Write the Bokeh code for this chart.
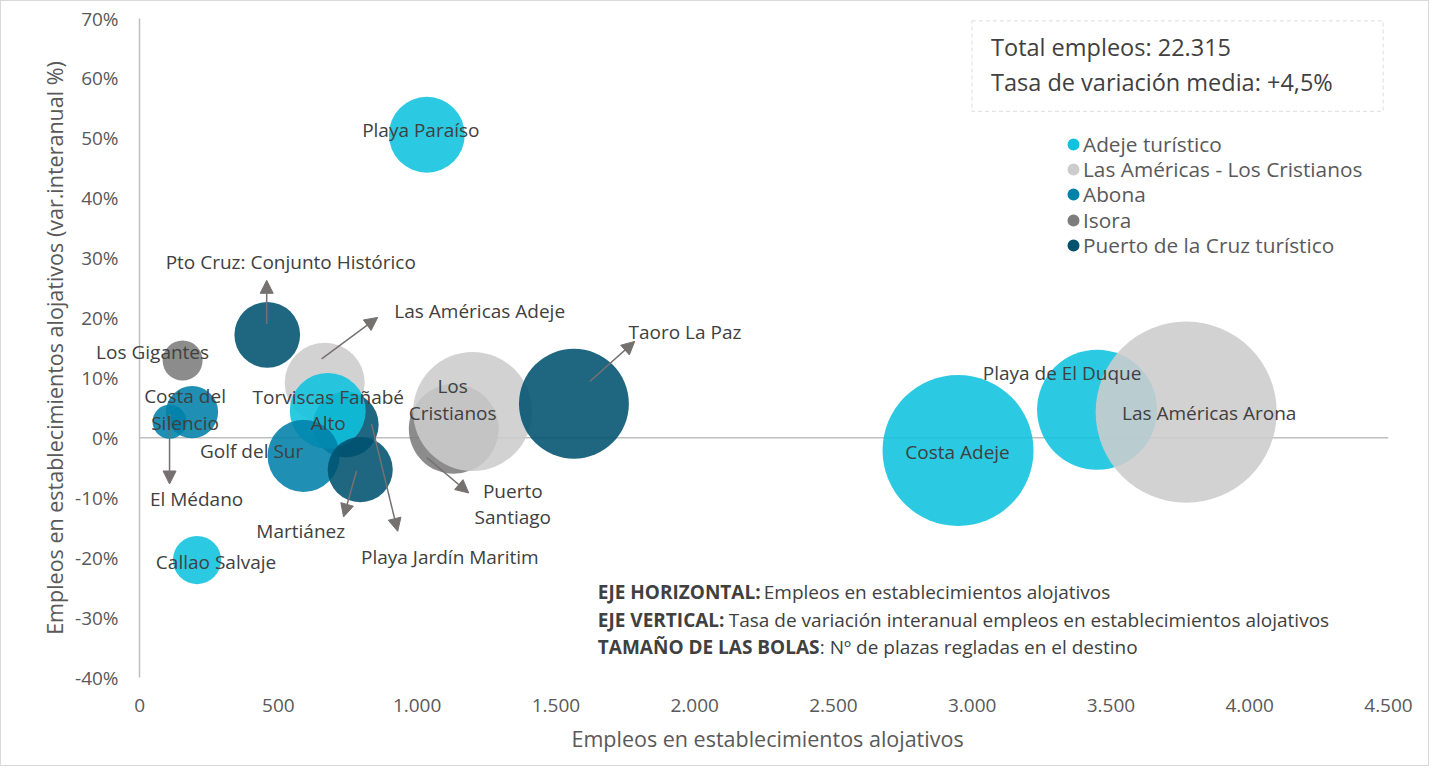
import math
from bokeh.plotting import figure
from bokeh.models import (ColumnDataSource, FixedTicker, NumeralTickFormatter, Arrow, Title,
                          NormalHead, Legend, LegendItem, BoxAnnotation, Label, Range1d)
from bokeh.embed import file_html
from bokeh.resources import INLINE

# ---------------- data ----------------
destinos = ["Playa Paraíso", "Costa Adeje", "Playa de El Duque", "Callao Salvaje",
            "Las Américas Arona", "Las Américas Adeje", "Playa Jardín Maritim",
            "Torviscas Fañabé Alto", "Golf del Sur", "Costa del Silencio", "El Médano",
            "Los Gigantes", "Puerto Santiago", "Los Cristianos",
            "Pto Cruz: Conjunto Histórico", "Martiánez", "Taoro La Paz"]
zonas = ["Adeje turístico", "Adeje turístico", "Adeje turístico", "Adeje turístico",
         "Las Américas - Los Cristianos", "Las Américas - Los Cristianos",
         "Puerto de la Cruz turístico", "Adeje turístico", "Abona", "Abona", "Abona",
         "Isora", "Isora", "Las Américas - Los Cristianos",
         "Puerto de la Cruz turístico", "Puerto de la Cruz turístico",
         "Puerto de la Cruz turístico"]
empleos = [1035, 2949, 3450, 207, 3771, 667, 743, 678, 591, 189, 108,
           155, 1132, 1200, 460, 795, 1565]
variacion = [0.506, -0.021, 0.047, -0.204, 0.043, 0.092, 0.022, 0.045, -0.030, 0.043, 0.027,
             0.129, 0.015, 0.044, 0.172, -0.053, 0.057]
plazas = [7200, 28500, 18000, 2900, 41000, 8000, 5400, 7200, 6500, 3400, 1450,
          2000, 10100, 17700, 5400, 5300, 15100]

zonas_leyenda = ["Adeje turístico", "Las Américas - Los Cristianos", "Abona", "Isora",
                 "Puerto de la Cruz turístico"]

x_ticks = [0, 500, 1000, 1500, 2000, 2500, 3000, 3500, 4000, 4500]
x_tick_labels = ["0", "500", "1.000", "1.500", "2.000", "2.500", "3.000", "3.500", "4.000", "4.500"]
y_ticks = [-0.4, -0.3, -0.2, -0.1, 0.0, 0.1, 0.2, 0.3, 0.4, 0.5, 0.6, 0.7]

x_title = "Empleos en establecimientos alojativos"
y_title = "Empleos en establecimientos alojativos (var.interanual %)"
total_txt = "Total empleos: 22.315"
media_txt = "Tasa de variación media: +4,5%"
nota_bold = ["EJE HORIZONTAL:", "EJE VERTICAL:", "TAMAÑO DE LAS BOLAS"]
nota_text = ["Empleos en establecimientos alojativos",
             "Tasa de variación interanual empleos en establecimientos alojativos",
             ": Nº de plazas regladas en el destino"]

# ---------------- styles / layout ----------------
FONT = "Open Sans"
zone_color = {"Adeje turístico": "#0FC3DE",
              "Las Américas - Los Cristianos": "#CDCCCD",
              "Abona": "#0081AA",
              "Isora": "#7C7C7C",
              "Puerto de la Cruz turístico": "#00526F"}
SIZE_K = 2 / math.sqrt(5)  # px diameter per sqrt(plaza)
LINE_H = 26.7               # px between label lines

# The frame is a bit larger than the axes (x=0..4500, y=-40%..70%) so that labels
# crossing the axes are not clipped; the y axis is pinned at x=0 like in the reference.
W, H = 1429, 766
FRAME_LEFT = 30
X_MAX, AXIS_PX = 4500, 1248          # px between x=0 and x=4500
Y_MIN, Y_MAX, AXIS_PY = -0.4, 0.7, 659
PAD_TOP, PAD_BOT = 13, 15            # px of frame beyond the y axis ends
x_start = -(139 - 1 - FRAME_LEFT) * X_MAX / AXIS_PX
py = AXIS_PY / (Y_MAX - Y_MIN)
y_start, y_end = Y_MIN - PAD_BOT / py, Y_MAX + PAD_TOP / py
border_top = 17 - PAD_TOP
border_bottom = H - border_top - (AXIS_PY + PAD_TOP + PAD_BOT)

label_text = {"Costa del Silencio": "Costa del\nSilencio",
              "Torviscas Fañabé Alto": "Torviscas Fañabé\nAlto",
              "Los Cristianos": "Los\nCristianos",
              "Puerto Santiago": "Puerto\nSantiago"}
label_off = {"Playa Paraíso": (-6, -4.5), "Costa Adeje": (-0.5, 2), "Playa de El Duque": (-35, -37),
             "Callao Salvaje": (19, 1.5), "Las Américas Arona": (23, 1), "Las Américas Adeje": (155, -72),
             "Playa Jardín Maritim": (104, 132), "Torviscas Fañabé Alto": (0.5, -1),
             "Golf del Sur": (-52, -5), "Costa del Silencio": (-7, -2.5), "El Médano": (27, 77),
             "Los Gigantes": (-30, -9), "Puerto Santiago": (59, 75), "Los Cristianos": (-20, -12),
             "Pto Cruz: Conjunto Histórico": (23.5, -72.5), "Martiánez": (-59.5, 61.5),
             "Taoro La Paz": (111, -72)}
arrows = [(458, 0.190, 458, 0.263), (656, 0.132, 858, 0.201), (1622, 0.094, 1784, 0.161),
          (108, 0.040, 108, -0.077), (782, -0.055, 735, -0.132), (836, 0.023, 930, -0.156),
          (1035, -0.033, 1186, -0.092)]

src = ColumnDataSource(dict(
    x=empleos, y=variacion,
    size=[SIZE_K * math.sqrt(v) for v in plazas],
    color=[zone_color[z] for z in zonas],
))

p = figure(width=W, height=H, output_backend="svg", toolbar_location=None,
           x_range=Range1d(x_start, X_MAX), y_range=Range1d(y_start, y_end),
           min_border_left=FRAME_LEFT, min_border_right=42, min_border_top=border_top,
           min_border_bottom=border_bottom, background_fill_color="white",
           border_fill_color="white")
p.outline_line_color = None
p.grid.visible = False
p.styles = {"border": "1px solid #D9D9D9"}

# zero line from x=0 to the end of the axis
p.line(x=[x_ticks[0], x_ticks[-1]], y=[0, 0], line_color="#BFBFBF", line_width=1.5)

p.scatter(x="x", y="y", size="size", source=src, fill_color="color", fill_alpha=0.88,
          line_color=None)

for x0, y0, x1, y1 in arrows:
    p.add_layout(Arrow(x_start=x0, y_start=y0, x_end=x1, y_end=y1, line_color="#767171",
                       line_width=1.5,
                       end=NormalHead(size=13, fill_color="#767171", line_color="#767171")))

# bubble labels (one Label per text line so that lines are centred)
for d, xv, yv in zip(destinos, empleos, variacion):
    lines = label_text.get(d, d).split("\n")
    dx, dy = label_off[d]
    n = len(lines)
    for i, line in enumerate(lines):
        off = dy + (i - (n - 1) / 2) * LINE_H
        p.add_layout(Label(x=xv, y=yv, x_offset=dx, y_offset=-off, text=line,
                           text_align="center", text_baseline="middle", text_font=FONT,
                           text_font_size="19px", text_color="#404040"))

# axes
p.xaxis.ticker = FixedTicker(ticks=x_ticks)
p.xaxis.major_label_overrides = {t: l for t, l in zip(x_ticks, x_tick_labels)}
p.yaxis.ticker = FixedTicker(ticks=y_ticks)
p.yaxis.formatter = NumeralTickFormatter(format="0%")
p.yaxis.fixed_location = 0
p.yaxis.bounds = (Y_MIN, Y_MAX)
for ax in (p.xaxis[0], p.yaxis[0]):
    ax.major_tick_line_color = None
    ax.minor_tick_line_color = None
    ax.major_label_text_font = FONT
    ax.major_label_text_font_size = "19px"
    ax.major_label_text_color = "#595959"
    ax.axis_label_text_font = FONT
    ax.axis_label_text_font_size = "21.5px"
    ax.axis_label_text_font_style = "normal"
    ax.axis_label_text_color = "#595959"
p.xaxis.major_label_standoff = 0
p.yaxis.major_label_standoff = 15
p.xaxis.axis_line_color = None
p.yaxis.axis_line_color = "#BFBFBF"
p.yaxis.axis_line_width = 1.5
p.yaxis.axis_label = y_title
p.yaxis.axis_label_standoff = 3

# x title, placed under the part of the frame right of x=0
p.add_layout(Title(text=x_title, align="left", offset=540,
                   text_font=FONT, text_font_size="21.5px", text_font_style="normal",
                   text_color="#595959", standoff=15), "below")

# text box
p.add_layout(BoxAnnotation(left=2999, right=4481, top=0.696, bottom=0.545, fill_alpha=0,
                           line_color="#A6A6A6", line_dash="4 3", line_width=1.2))
for yy, t in ((0.652, total_txt), (0.594, media_txt)):
    p.add_layout(Label(x=3068, y=yy, text=t, text_font=FONT, text_font_size="23.5px",
                       text_color="#404040", text_baseline="middle"))

# notes
note_y = [-0.2575, -0.304, -0.349]
note_off = [166, 131, 222]
for yy, b, t, off in zip(note_y, nota_bold, nota_text, note_off):
    p.add_layout(Label(x=1651, y=yy, text=b, text_font=FONT, text_font_size="19px",
                       text_font_style="bold", text_color="#404040", text_baseline="middle"))
    p.add_layout(Label(x=1651, y=yy, x_offset=off, text=t, text_font=FONT, text_font_size="19px",
                       text_color="#404040", text_baseline="middle"))

# legend: one single-item legend per row, so the row pitch matches the reference
LEG_X, LEG_Y0, LEG_DY = 924 + (139 - 1 - FRAME_LEFT), 519 + PAD_BOT, 25.2
for i, z in enumerate(zonas_leyenda):
    r = p.scatter(x=[math.nan], y=[math.nan], marker="circle", size=8,
                  fill_color=zone_color[z], line_color=zone_color[z], line_width=4)
    leg = Legend(items=[LegendItem(label=z, renderers=[r])],
                 location=(LEG_X, LEG_Y0 - LEG_DY * i), border_line_alpha=0,
                 background_fill_alpha=0, glyph_width=20, glyph_height=20, label_standoff=0,
                 label_height=20, spacing=0, padding=0, margin=0, label_text_font=FONT,
                 label_text_font_size="20.8px", label_text_color="#595959")
    p.add_layout(leg, "center")

open("out.html", "w").write(file_html(p, INLINE))
